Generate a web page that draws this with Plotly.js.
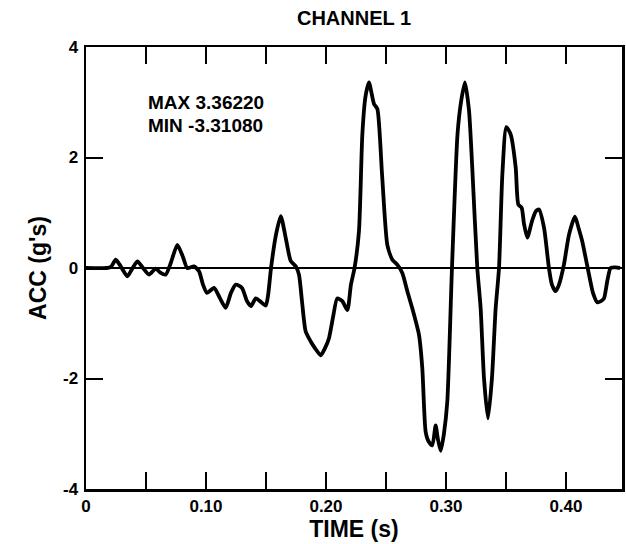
<!DOCTYPE html>
<html>
<head>
<meta charset="utf-8">
<script src="https://cdn.plot.ly/plotly-3.0.1.min.js"></script>
<style>html,body{margin:0;padding:0;background:#fff;}#chart{width:626px;height:544px;}</style>
</head>
<body>
<div id="chart"></div>
<script>
// Time (s)
const time = [0, 0.0175, 0.0208, 0.0248, 0.0292, 0.0344, 0.0383, 0.0428, 0.0475, 0.0525,
  0.0581, 0.0617, 0.0664, 0.0708, 0.0761, 0.0808, 0.0844, 0.09, 0.0942, 0.0975,
  0.1008, 0.1067, 0.1117, 0.1164, 0.1208, 0.1248, 0.13, 0.1342, 0.1375, 0.1414,
  0.145, 0.1498, 0.1517, 0.1542, 0.1583, 0.1623, 0.1664, 0.1706, 0.1748, 0.1775,
  0.18, 0.1831, 0.1873, 0.1908, 0.1956, 0.1992, 0.2025, 0.2058, 0.2094, 0.2136,
  0.2178, 0.2208, 0.2238, 0.2275, 0.2303, 0.2329, 0.2358, 0.24, 0.2428, 0.2467,
  0.2511, 0.2553, 0.2594, 0.2636, 0.2678, 0.2719, 0.2775, 0.2803, 0.2831, 0.2858,
  0.2886, 0.2914, 0.2933, 0.2956, 0.2983, 0.3011, 0.305, 0.3096, 0.3125, 0.3158,
  0.3192, 0.3219, 0.3261, 0.3289, 0.3317, 0.335, 0.3383, 0.3414, 0.3442, 0.347,
  0.3503, 0.3539, 0.3581, 0.3603, 0.3631, 0.365, 0.3678, 0.3717, 0.375, 0.3775,
  0.3817, 0.3858, 0.3883, 0.3914, 0.3942, 0.3983, 0.4025, 0.4075, 0.4108, 0.4136,
  0.4192, 0.4225, 0.4261, 0.4292, 0.4317, 0.4344, 0.4372, 0.4414, 0.445];
// Acceleration (g's)
const acc = [0, 0, 0.02, 0.15, 0.02, -0.15, -0.02, 0.12, 0.0, -0.12,
  -0.01, -0.08, -0.12, 0.1, 0.42, 0.2, 0.0, 0.03, -0.06, -0.3,
  -0.45, -0.36, -0.55, -0.72, -0.45, -0.30, -0.36, -0.6, -0.69, -0.55,
  -0.6, -0.68, -0.5, 0, 0.6, 0.94, 0.55, 0.13, 0.03, -0.12,
  -0.6, -1.15, -1.33, -1.45, -1.58, -1.45, -1.27, -0.9, -0.55, -0.6,
  -0.76, -0.3, 0, 0.67, 2.42, 3.1, 3.36, 2.97, 2.88, 1.7,
  0.42, 0.15, 0.06, -0.09, -0.42, -0.73, -1.21, -1.82, -2.97, -3.15,
  -3.21, -2.85, -3.1, -3.31, -3.0, -2.42, 0, 2.42, 3.0, 3.36,
  2.85, 1.82, 0, -0.73, -2.0, -2.72, -2.0, -0.73, 0, 1.7,
  2.55, 2.42, 1.82, 1.15, 1.09, 0.8, 0.55, 0.85, 1.03, 1.06,
  0.73, 0, -0.3, -0.42, -0.3, 0.06, 0.6, 0.93, 0.7, 0.48,
  -0.12, -0.45, -0.62, -0.6, -0.55, -0.24, 0, 0.01, 0];

const xTickVals = [0, 0.05, 0.10, 0.15, 0.20, 0.25, 0.30, 0.35, 0.40];
const xTickText = ['0', '', '0.10', '', '0.20', '', '0.30', '', '0.40'];
const yTickVals = [-4, -2, 0, 2, 4];
const yTickText = ['-4', '-2', '0', '2', '4'];
const statLines = ['MAX 3.36220', 'MIN -3.31080'];

const FONT = 'Liberation Sans, Arial, sans-serif';

const trace = {
  x: time, y: acc, type: 'scatter', mode: 'lines',
  line: {color: '#000', width: 3.8, shape: 'spline', smoothing: 0.6},
  hoverinfo: 'skip'
};

const layout = {
  width: 626, height: 544,
  margin: {l: 86, r: 4, t: 47, b: 55, pad: 0},
  paper_bgcolor: '#fff', plot_bgcolor: '#fff',
  showlegend: false,
  title: {text: 'CHANNEL 1', font: {family: FONT, size: 20, color: '#000', weight: 'bold'},
          x: 0.5, xref: 'paper', xanchor: 'center', y: 1 - 18/544, yanchor: 'middle'},
  xaxis: {
    range: [0, 0.4467], tickmode: 'array', tickvals: xTickVals, ticktext: xTickText,
    ticks: 'inside', ticklen: 17, tickwidth: 2, tickcolor: '#000',
    showline: true, linecolor: '#000', linewidth: 2.5, mirror: 'ticks',
    showgrid: false, zeroline: false,
    tickfont: {family: FONT, size: 17, color: '#000', weight: 'bold'},
    ticklabelstandoff: 0,
    title: {text: 'TIME (s)', font: {family: FONT, size: 23, color: '#000', weight: 'bold'}, standoff: 0}
  },
  yaxis: {
    range: [-4, 4], tickmode: 'array', tickvals: yTickVals, ticktext: yTickText,
    ticks: 'inside', ticklen: 17, tickwidth: 2, tickcolor: '#000',
    showline: true, linecolor: '#000', linewidth: 2.5, mirror: 'ticks',
    showgrid: false, zeroline: true, zerolinecolor: '#000', zerolinewidth: 1.6,
    tickfont: {family: FONT, size: 17, color: '#000', weight: 'bold'},
    ticklabelstandoff: 2,
    title: {text: "ACC (g's)", font: {family: FONT, size: 23, color: '#000', weight: 'bold'}, standoff: 10}
  },
  annotations: [
    {text: statLines[0], xref: 'paper', yref: 'paper', x: (146-86)/536, y: 1 - (102-47)/442,
     xanchor: 'left', yanchor: 'middle', showarrow: false,
     font: {family: FONT, size: 19, color: '#000', weight: 'bold'}},
    {text: statLines[1], xref: 'paper', yref: 'paper', x: (146-86)/536, y: 1 - (125-47)/442,
     xanchor: 'left', yanchor: 'middle', showarrow: false,
     font: {family: FONT, size: 19, color: '#000', weight: 'bold'}}
  ]
};

Plotly.newPlot('chart', [trace], layout, {displayModeBar: false, staticPlot: true});
</script>
</body>
</html>
